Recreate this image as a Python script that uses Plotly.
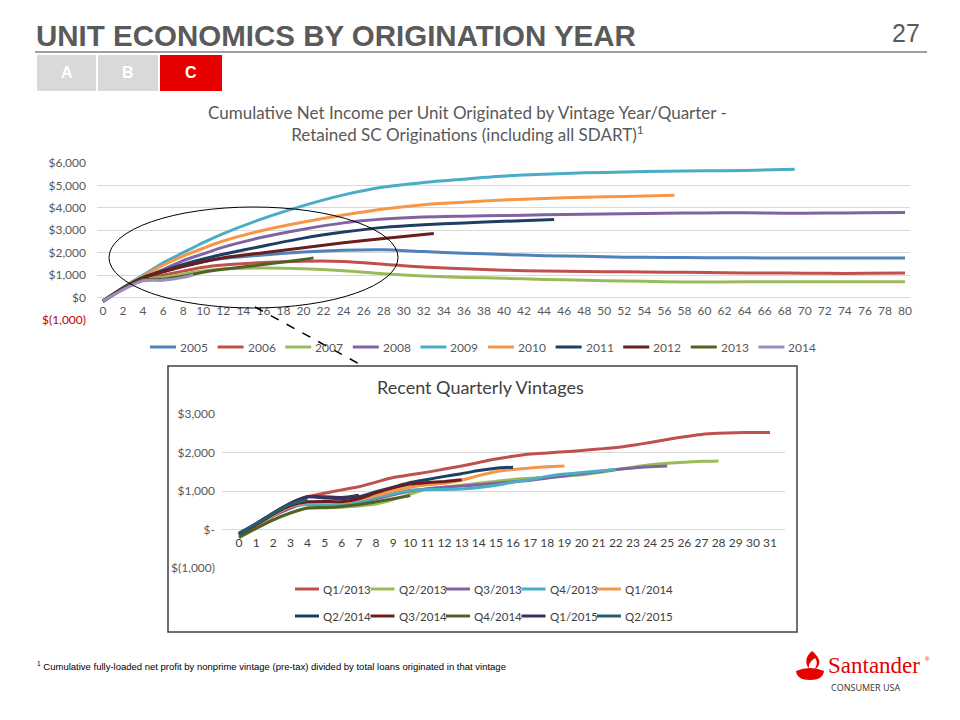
import plotly.graph_objects as go

# ---------------- DATA ----------------
top_names = ["2005", "2006", "2007", "2008", "2009", "2010", "2011", "2012", "2013", "2014"]
top_colors = ["#4F81BD", "#C0504D", "#9BBB59", "#8064A2", "#4BACC6", "#F79646",
              "#1F3E66", "#6B1E1C", "#4F6228", "#9C8DC0"]

months_full = [0, 2, 4, 6, 8, 10, 12, 16, 20, 24, 28, 32, 36, 40, 44, 48, 52, 56, 60, 64, 68, 72, 76, 80]
v2005 = [-150, 400, 870, 1150, 1420, 1600, 1740, 1900, 2030, 2110, 2130, 2050, 1980, 1920, 1870, 1840, 1800, 1790, 1780, 1770, 1760, 1760, 1760, 1760]
v2006 = [-150, 400, 850, 1000, 1180, 1350, 1450, 1560, 1620, 1610, 1490, 1360, 1280, 1220, 1180, 1160, 1150, 1130, 1120, 1100, 1090, 1080, 1080, 1100]
v2007 = [-150, 380, 800, 900, 1050, 1180, 1270, 1320, 1290, 1200, 1060, 960, 900, 860, 810, 770, 740, 710, 690, 700, 700, 705, 710, 710]
v2008 = [-150, 400, 900, 1250, 1650, 1950, 2250, 2700, 3050, 3330, 3500, 3590, 3630, 3660, 3690, 3710, 3740, 3760, 3770, 3780, 3760, 3770, 3780, 3790]
x2009 = [0, 2, 4, 6, 8, 10, 12, 16, 20, 24, 28, 32, 36, 40, 44, 48, 52, 56, 60, 64, 69]
v2009 = [-200, 450, 1000, 1550, 2000, 2450, 2850, 3530, 4100, 4580, 4930, 5130, 5280, 5420, 5500, 5560, 5600, 5630, 5650, 5670, 5720]
x2010 = [0, 2, 4, 6, 8, 10, 12, 16, 20, 24, 28, 32, 36, 40, 44, 48, 52, 57]
v2010 = [-150, 430, 950, 1450, 1850, 2200, 2520, 3000, 3370, 3680, 3950, 4140, 4250, 4350, 4420, 4470, 4510, 4560]
x2011 = [0, 2, 4, 6, 8, 10, 12, 16, 20, 24, 28, 32, 36, 40, 45]
v2011 = [-150, 420, 900, 1200, 1480, 1720, 1930, 2300, 2650, 2920, 3130, 3250, 3330, 3400, 3480]
x2012 = [0, 2, 4, 6, 8, 10, 12, 16, 20, 24, 28, 33]
v2012 = [-150, 420, 880, 1150, 1380, 1600, 1780, 2000, 2220, 2440, 2630, 2860]
x2013 = [0, 2, 4, 6, 8, 10, 12, 16, 20, 21]
v2013 = [-150, 380, 780, 820, 950, 1130, 1260, 1470, 1700, 1770]
x2014 = [0, 2, 4, 6, 8, 9]
v2014 = [-150, 350, 750, 770, 900, 1020]

top_x_lists = [months_full, months_full, months_full, months_full, x2009, x2010, x2011, x2012, x2013, x2014]
top_y_lists = [v2005, v2006, v2007, v2008, v2009, v2010, v2011, v2012, v2013, v2014]

top_yticks = [-1000, 0, 1000, 2000, 3000, 4000, 5000, 6000]
top_yticktext = ["<span style='color:#C00000'>$(1,000)</span>", "$0", "$1,000", "$2,000",
                 "$3,000", "$4,000", "$5,000", "$6,000"]
top_xticks = list(range(0, 81, 2))

q_names = ["Q1/2013", "Q2/2013", "Q3/2013", "Q4/2013", "Q1/2014",
           "Q2/2014", "Q3/2014", "Q4/2014", "Q1/2015", "Q2/2015"]
q_colors = ["#C0504D", "#9BBB59", "#8064A2", "#4BACC6", "#F79646",
            "#1F3E66", "#6B1E1C", "#4F6228", "#3F2D5C", "#215E6E"]
months_q = list(range(0, 32))
q1_2013 = [-150, 120, 400, 650, 850, 940, 1030, 1110, 1230, 1350, 1420, 1490, 1570, 1650, 1740, 1830,
           1900, 1960, 1990, 2020, 2050, 2090, 2130, 2190, 2260, 2340, 2410, 2470, 2500, 2515, 2520, 2520]
q2_2013 = [-220, 30, 250, 420, 550, 560, 580, 610, 660, 780, 920, 1050, 1100, 1150, 1200, 1250,
           1300, 1330, 1360, 1390, 1420, 1480, 1550, 1620, 1680, 1720, 1750, 1770, 1780]
q3_2013 = [-150, 100, 350, 550, 700, 650, 630, 700, 800, 900, 1000, 1060, 1100, 1130, 1160, 1200,
           1240, 1280, 1340, 1390, 1450, 1500, 1560, 1600, 1630, 1650]
q4_2013 = [-150, 100, 380, 600, 650, 650, 650, 720, 830, 930, 1020, 1040, 1040, 1050, 1090, 1150,
           1230, 1300, 1380, 1440, 1480, 1520, 1560]
q1_2014 = [-150, 100, 380, 600, 700, 700, 700, 780, 880, 1000, 1100, 1160, 1200, 1280, 1400, 1500,
           1560, 1600, 1630, 1650]
q2_2014 = [-100, 150, 430, 680, 850, 820, 800, 850, 980, 1100, 1220, 1300, 1380, 1450, 1530, 1590, 1620]
q3_2014 = [-130, 120, 400, 620, 720, 730, 720, 800, 950, 1080, 1180, 1220, 1250, 1290]
q4_2014 = [-200, 30, 250, 430, 560, 570, 600, 650, 720, 800, 880]
q1_2015 = [-100, 150, 430, 680, 850, 850, 830, 890]
q2_2015 = [-120, 150, 420, 650, 780]
q_lists = [q1_2013, q2_2013, q3_2013, q4_2013, q1_2014, q2_2014, q3_2014, q4_2014, q1_2015, q2_2015]

bot_yticks = [-1000, 0, 1000, 2000, 3000]
bot_yticktext = ["$(1,000)", "$-", "$1,000", "$2,000", "$3,000"]
bot_xticks = list(range(0, 32))

# ---------------- HELPERS ----------------
W, H = 960, 720
def px(x):
    return x / W
def py(y):
    return 1 - y / H

GRAY = "#595959"
CHART_FONT = "Lato, Carlito, Calibri, sans-serif"
ARIAL = "Liberation Sans, Arial, sans-serif"

fig = go.Figure()

for i, name in enumerate(top_names):
    fig.add_trace(go.Scatter(
        x=top_x_lists[i], y=top_y_lists[i], name=name, mode="lines",
        line=dict(color=top_colors[i], width=3, shape="spline", smoothing=0.8),
        xaxis="x", yaxis="y", showlegend=False, hoverinfo="skip"))

for i, name in enumerate(q_names):
    yv = q_lists[i]
    fig.add_trace(go.Scatter(
        x=months_q[:len(yv)], y=yv, name=name, mode="lines",
        line=dict(color=q_colors[i], width=3, shape="spline", smoothing=0.6),
        xaxis="x2", yaxis="y2", showlegend=False, hoverinfo="skip"))

# axis geometry (pixels)
top_l, top_r = 97, 910
top_x0_px, top_px_per = 103, (905 - 103) / 80
bot_l, bot_r = 222, 785
bot_x0_px, bot_px_per = 239, (770 - 239) / 31

shapes = []
annotations = []

# inset box (drawn below traces)
shapes.append(dict(type="rect", xref="paper", yref="paper", x0=px(168), x1=px(797), y0=py(632), y1=py(366),
                   line=dict(color="#404040", width=1.5), fillcolor="white", layer="below"))

fig.update_layout(
    width=W, height=H, autosize=False,
    margin=dict(l=0, r=0, t=0, b=0, pad=0),
    paper_bgcolor="white", plot_bgcolor="rgba(0,0,0,0)",
    showlegend=False,
    xaxis=dict(domain=[px(top_l), px(top_r)],
               range=[(top_l - top_x0_px) / top_px_per, (top_r - top_x0_px) / top_px_per],
               anchor="free", position=py(298), showgrid=False, zeroline=False, showline=False,
               automargin=False,
               tickmode="array", tickvals=top_xticks, ticks="", ticklabelstandoff=4,
               tickfont=dict(family=CHART_FONT, size=12, color=GRAY), fixedrange=True),
    yaxis=dict(domain=[py(320), py(163)], range=[-1000, 6000], anchor="x", automargin=False,
               showgrid=True, gridcolor="#D9D9D9", gridwidth=1, zeroline=False, showline=False,
               tickmode="array", tickvals=top_yticks, ticktext=top_yticktext, ticks="",
               ticklabelstandoff=10,
               tickfont=dict(family=CHART_FONT, size=12, color=GRAY), fixedrange=True),
    xaxis2=dict(domain=[px(bot_l), px(bot_r)],
                range=[(bot_l - bot_x0_px) / bot_px_per, (bot_r - bot_x0_px) / bot_px_per],
                anchor="free", position=py(530), showgrid=False, zeroline=False, showline=False,
                automargin=False,
                tickmode="array", tickvals=bot_xticks, ticks="", ticklabelstandoff=4,
                tickfont=dict(family=CHART_FONT, size=12, color="#404040"), fixedrange=True),
    yaxis2=dict(domain=[py(568), py(414)], range=[-1000, 3000], anchor="x2", automargin=False,
                showgrid=True, gridcolor="#D9D9D9", gridwidth=1, zeroline=False, showline=False,
                tickmode="array", tickvals=bot_yticks, ticktext=bot_yticktext, ticks="",
                ticklabelstandoff=6,
                tickfont=dict(family=CHART_FONT, size=12, color=GRAY), fixedrange=True),
)

# ---- manual legends (line sample + text) ----
def legend_item(x_line, y, color, label, font_color, length=26, size=12):
    shapes.append(dict(type="line", xref="paper", yref="paper", x0=px(x_line), x1=px(x_line + length),
                       y0=py(y), y1=py(y), line=dict(color=color, width=3)))
    annotations.append(dict(text=label, x=px(x_line + length + 2), y=py(y), xref="paper", yref="paper",
                            showarrow=False, xanchor="left", yanchor="middle",
                            font=dict(family=CHART_FONT, size=size, color=font_color)))

for i, name in enumerate(top_names):
    legend_item(150 + 67.6 * i, 347, top_colors[i], name, GRAY)
for i, name in enumerate(q_names):
    row, col = divmod(i, 5)
    legend_item(295 + 75.5 * col, 589 + 27 * row, q_colors[i], name, "#404040", length=24, size=11.5)

# title rule
shapes.append(dict(type="line", xref="paper", yref="paper", x0=px(35), x1=px(927), y0=py(52), y1=py(52),
                   line=dict(color="#808080", width=1.5)))
# tabs
for (x0, x1, col, lab) in [(37, 96, "#D9D9D9", "A"), (98, 158, "#D9D9D9", "B"), (160, 222, "#E60000", "C")]:
    shapes.append(dict(type="rect", xref="paper", yref="paper", x0=px(x0), x1=px(x1), y0=py(91), y1=py(55),
                       line=dict(width=0), fillcolor=col))
    annotations.append(dict(text="<b>" + lab + "</b>", x=px((x0 + x1) / 2), y=py(73), xref="paper", yref="paper",
                            showarrow=False, xanchor="center", yanchor="middle",
                            font=dict(family=ARIAL, size=16, color="white")))

# ellipse and dashed connector
shapes.append(dict(type="circle", xref="paper", yref="paper", x0=px(109), x1=px(398), y0=py(308), y1=py(207),
                   line=dict(color="#000000", width=1)))
shapes.append(dict(type="line", xref="paper", yref="paper", x0=px(255), y0=py(307), x1=px(363), y1=py(366),
                   line=dict(color="#000000", width=1.5, dash="dash")))

# Santander flame logo (approximate)
def path_from(cmds):
    out = []
    for c, pts in cmds:
        out.append(c + " ".join("%.5f,%.5f" % (px(a), py(b)) for a, b in pts))
    return " ".join(out) + " Z"

base = [("M", [(796, 671)]), ("Q", [(810, 665), (824, 671)]), ("Q", [(823, 680), (810, 680)]),
        ("Q", [(797, 680), (796, 671)])]
flame = [("M", [(812, 651)]), ("C", [(805, 657), (805, 663), (809, 669)]), ("C", [(808, 664), (811, 661), (815, 658)]),
         ("C", [(818, 662), (817, 666), (814, 670)]), ("C", [(821, 666), (822, 659), (812, 651)])]
shapes.append(dict(type="path", xref="paper", yref="paper", path=path_from(base),
                   fillcolor="#E60000", line=dict(width=0)))
shapes.append(dict(type="path", xref="paper", yref="paper", path=path_from(flame),
                   fillcolor="#E60000", line=dict(width=0)))

annotations += [
    dict(text="<b>UNIT ECONOMICS BY ORIGINATION YEAR</b>", x=px(34), y=py(35), xref="paper", yref="paper",
         showarrow=False, xanchor="left", yanchor="middle", font=dict(family=ARIAL, size=29.5, color="#5A5A5A")),
    dict(text="27", x=px(922), y=py(33), xref="paper", yref="paper", showarrow=False, xanchor="right",
         yanchor="middle", font=dict(family=ARIAL, size=25, color="#5A5A5A")),
    dict(text="Cumulative Net Income per Unit Originated by Vintage Year/Quarter -<br>"
              "Retained SC Originations (including all SDART)<sup>1</sup>",
         x=px(467), y=py(123), xref="paper", yref="paper", showarrow=False, xanchor="center", yanchor="middle",
         align="center", font=dict(family=CHART_FONT, size=17, color=GRAY)),
    dict(text="Recent Quarterly Vintages", x=px(480), y=py(387), xref="paper", yref="paper", showarrow=False,
         xanchor="center", yanchor="middle", font=dict(family=CHART_FONT, size=18, color="#404040")),
    dict(text="<sup>1</sup> Cumulative fully-loaded net profit by nonprime vintage (pre-tax) divided by total loans originated in that vintage",
         x=px(35), y=py(666), xref="paper", yref="paper", showarrow=False, xanchor="left", yanchor="middle",
         font=dict(family=ARIAL, size=9.5, color="#000000")),
    dict(text="Santander", x=px(826), y=py(665), xref="paper", yref="paper", showarrow=False, xanchor="left",
         yanchor="middle", font=dict(family="Liberation Serif, DejaVu Serif, serif", size=23, color="#E60000")),
    dict(text="®", x=px(923), y=py(659), xref="paper", yref="paper", showarrow=False, xanchor="left",
         yanchor="middle", font=dict(family=ARIAL, size=6, color="#E60000")),
    dict(text="CONSUMER USA", x=px(865), y=py(687), xref="paper", yref="paper", showarrow=False,
         xanchor="center", yanchor="middle", font=dict(family="Open Sans, sans-serif", size=9, color="#333333")),
]

fig.update_layout(shapes=shapes, annotations=annotations)
fig.write_html("out.html", config={"displayModeBar": False, "staticPlot": True},
               post_script="document.body.style.margin='0';document.body.style.padding='0';")
